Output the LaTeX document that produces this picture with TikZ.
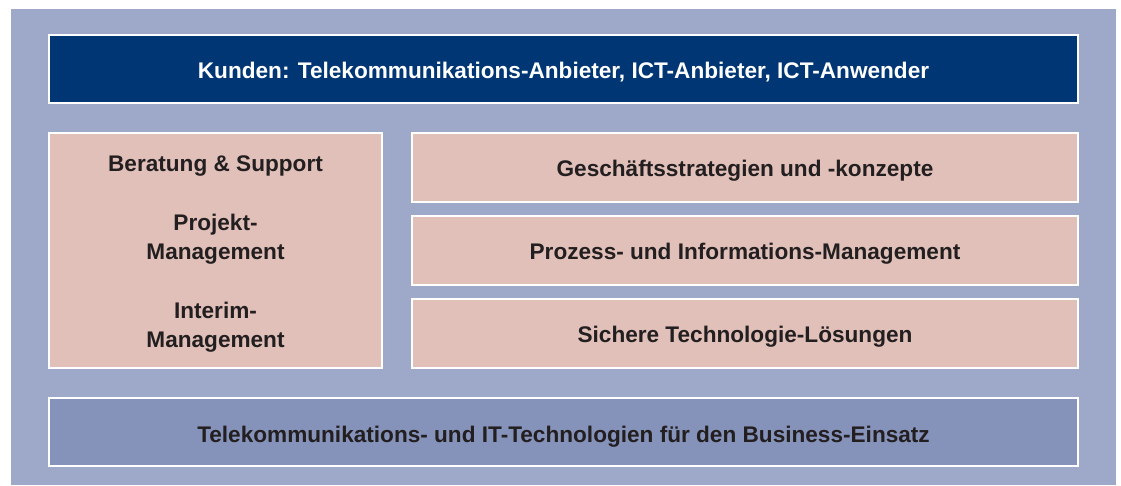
\documentclass[tikz,border=0pt]{standalone}
\usepackage{fontspec}
\setmainfont{Liberation Sans}
\definecolor{outerbg}{HTML}{9EA8C8}
\definecolor{navy}{HTML}{003674}
\definecolor{rose}{HTML}{E0C0B8}
\definecolor{slate}{HTML}{8592BA}
\definecolor{ink}{HTML}{231F20}
\begin{document}
\begin{tikzpicture}[x=1pt,y=-1pt,
  panel/.style={draw=white,line width=2pt},
  lbl/.style={font=\bfseries\fontsize{22.6}{29}\selectfont,text=ink,inner sep=0pt,align=center}]
\useasboundingbox (0,0) rectangle (1121,485);
\fill[outerbg] (11,9) rectangle (1116,485);
\draw[panel,fill=navy] (49,35) rectangle (1078,103);
\draw[panel,fill=rose] (49,133) rectangle (382,368);
\draw[panel,fill=rose] (412,133) rectangle (1078,202);
\draw[panel,fill=rose] (412,216) rectangle (1078,285);
\draw[panel,fill=rose] (412,299) rectangle (1078,368);
\draw[panel,fill=slate] (49,398) rectangle (1078,466);
\node[lbl,text=white] (kunden) at (563.5,72) {Kunden: Telekommunikations-Anbieter, ICT-Anbieter, ICT-Anwender};
\node[lbl] (beratung) at (215.5,166) {Beratung \& Support};
\node[lbl] (projekt) at (215.5,239) {Projekt-\\Management};
\node[lbl] (interim) at (215.5,327) {Interim-\\Management};
\node[lbl] (gesch) at (745,171) {Geschäftsstrategien und -konzepte};
\node[lbl] (prozess) at (745,254) {Prozess- und Informations-Management};
\node[lbl] (sicher) at (745,337) {Sichere Technologie-Lösungen};
\node[lbl] (tele) at (563.5,437) {Telekommunikations- und IT-Technologien für den Business-Einsatz};
\end{tikzpicture}
\end{document}
